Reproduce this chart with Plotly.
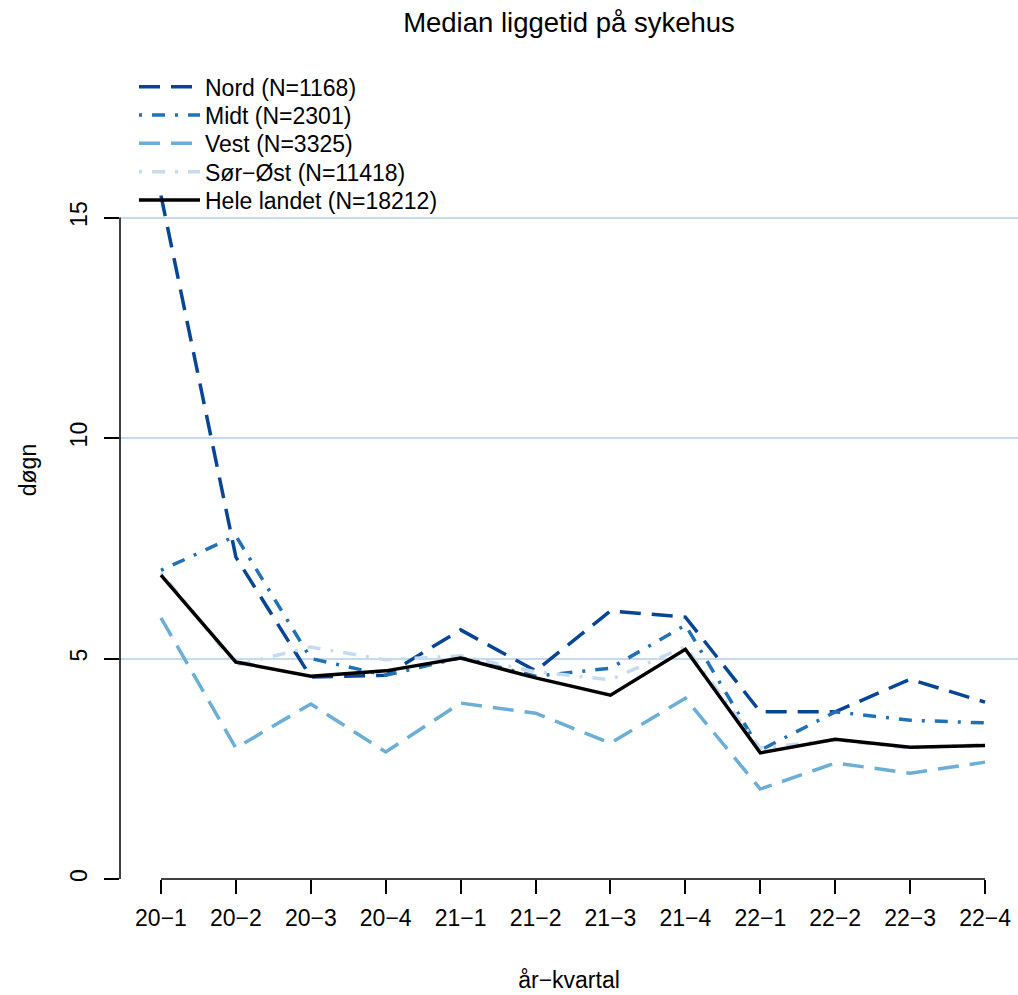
import plotly.graph_objects as go

categories = ["20−1", "20−2", "20−3", "20−4", "21−1", "21−2",
              "21−3", "21−4", "22−1", "22−2", "22−3", "22−4"]
nord = [15.5, 7.3, 4.58, 4.62, 5.65, 4.72, 6.08, 5.94, 3.79, 3.79, 4.53, 4.01]
midt = [7.0, 7.78, 5.0, 4.62, 5.02, 4.6, 4.78, 5.76, 2.92, 3.79, 3.6, 3.54]
vest = [5.92, 2.97, 3.97, 2.88, 3.99, 3.76, 3.08, 4.1, 2.04, 2.63, 2.4, 2.65]
sor_ost = [6.95, 4.85, 5.26, 4.97, 5.06, 4.7, 4.52, 5.27, 2.97, 3.15, 2.97, 3.05]
hele = [6.89, 4.92, 4.6, 4.72, 5.01, 4.56, 4.17, 5.21, 2.86, 3.17, 2.99, 3.03]
series_names = ["Nord (N=1168)", "Midt (N=2301)", "Vest (N=3325)",
                "Sør−Øst (N=11418)", "Hele landet (N=18212)"]
y_ticks = [0, 5, 10, 15]

colors = ["#084594", "#2171B5", "#6BAED6", "#C6DBEF", "#000000"]
dashes = ["21px,11px", "3px,10px,13px,10px", "21px,11px", "3px,10px,13px,10px", "solid"]
series = [nord, midt, vest, sor_ost, hele]

FONT = "Liberation Sans, Arial, sans-serif"
xs = list(range(len(categories)))

# layout geometry (pixels)
W, H = 1018, 995
ML, MR, MT, MB = 120, 0, 61, 116
PW, PH = W - ML - MR, H - MT - MB

fig = go.Figure()
legend_names = ["legend"] + [f"legend{i}" for i in range(2, len(series) + 1)]
for name, vals, col, dash, lg in zip(series_names, series, colors, dashes, legend_names):
    fig.add_trace(go.Scatter(
        x=xs, y=vals, mode="lines", name=name, legend=lg,
        line=dict(color=col, width=3.5, dash=dash),
    ))

legend_row_px = [86.7, 115.0, 143.3, 171.7, 200.0]
legend_layout = {}
for lg, cy in zip(legend_names, legend_row_px):
    legend_layout[lg] = dict(
        x=(134 - ML) / PW, y=1 - (cy - MT) / PH, xanchor="left", yanchor="middle",
        bgcolor="rgba(0,0,0,0)", font=dict(size=23, family=FONT, color="black"),
        itemwidth=61,
    )

fig.update_layout(
    width=W, height=H,
    margin=dict(l=ML, r=MR, t=MT, b=MB),
    paper_bgcolor="white", plot_bgcolor="white",
    font=dict(family=FONT, size=23, color="black"),
    title=dict(text="Median liggetid på sykehus", x=0.5, xref="paper",
               xanchor="center", y=1 - 22 / H, yanchor="middle",
               font=dict(size=27.5, family=FONT, color="black")),
    showlegend=True,
    xaxis=dict(
        range=[-0.547, 11.44], tickvals=xs, ticktext=categories,
        showgrid=False, zeroline=False, showline=False,
        ticks="outside", ticklen=14, tickwidth=1.5, tickcolor="black",
        ticklabelstandoff=4,
        title=dict(text="år−kvartal", standoff=42, font=dict(size=23)),
    ),
    yaxis=dict(
        range=[0, 18.55], tickvals=y_ticks, ticktext=[str(v) for v in y_ticks],
        showgrid=True, gridcolor="#C6DBEF", gridwidth=2,
        zeroline=False, showline=False,
        ticks="outside", ticklen=15, tickwidth=1.5, tickcolor="black",
        tickangle=-90, ticklabelstandoff=8,
        title=dict(text="døgn", standoff=22, font=dict(size=23)),
    ),
    **legend_layout,
)

# R-style axis lines spanning only the tick range
fig.add_shape(type="line", xref="x", yref="paper", x0=xs[0], x1=xs[-1], y0=0, y1=0,
              line=dict(color="black", width=1.5), layer="above")
fig.add_shape(type="line", xref="paper", yref="y", x0=0, x1=0, y0=y_ticks[0], y1=y_ticks[-1],
              line=dict(color="black", width=1.5), layer="above")

fig.write_html("out.html", config={"displayModeBar": False},
               post_script="document.body.style.margin='0';")
